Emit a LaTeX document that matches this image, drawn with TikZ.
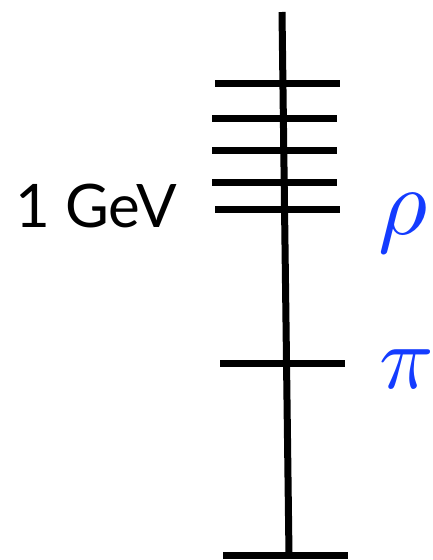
\documentclass[tikz,border=0pt]{standalone}
\usepackage{fontspec}
\setmainfont{Lato}
\definecolor{labelblue}{RGB}{20,60,255}
\begin{document}
\begin{tikzpicture}[x=1pt,y=-1pt,
  bar/.style={line width=7pt,black},
  mlabel/.style={anchor=base west,inner sep=0pt,text=labelblue}]
\useasboundingbox (0,0) rectangle (432,560);
% vertical axis
\coordinate (top) at (282,12);
\coordinate (bot) at (289,555);
\draw[bar] (top) -- (bot);
% level ticks
\draw[bar] (215,83) -- (340,83);
\draw[bar] (212,118) -- (337,118);
\draw[bar] (212,150) -- (337,150);
\draw[bar] (212,182) -- (337,182);
\draw[bar] (215,209) -- (340,209);
\draw[bar] (220,363) -- (345,363);
\draw[bar] (223,555) -- (348,555);
% labels
\node[anchor=base west,inner sep=0pt,font=\fontsize{60}{60}\selectfont] (gev) at (15,227) {1 GeV};
\node[mlabel] (rho) at (378,234) {\scalebox{9.5}{$\rho$}};
\node[mlabel] (pi) at (379,388) {\scalebox{9}{$\pi$}};
\end{tikzpicture}
\end{document}
